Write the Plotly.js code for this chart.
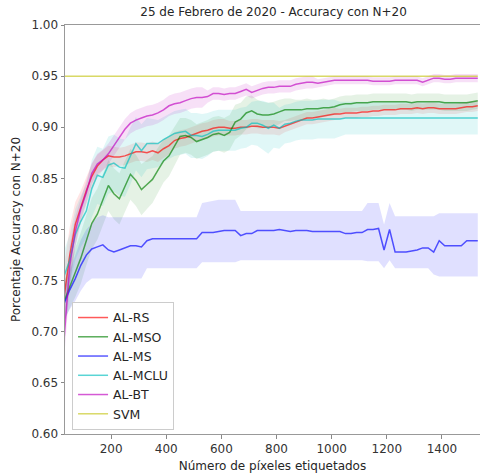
<!DOCTYPE html>
<html>
<head>
<meta charset="utf-8">
<script src="https://cdn.plot.ly/plotly-3.0.1.min.js"></script>
<style>html,body{margin:0;padding:0;background:#fff;}#chart{width:480px;height:474px;}</style>
</head>
<body>
<div id="chart"></div>
<script>
// Número de píxeles etiquetados
const xPix = [30,50,70,90,110,130,150,170,190,210,230,250,270,290,310,330,350,370,390,410,
  430,450,470,490,510,530,550,570,590,610,630,650,670,690,710,730,750,770,790,810,
  830,850,870,890,910,930,950,970,990,1010,1030,1050,1070,1090,1110,1130,1150,1170,1190,1210,
  1230,1250,1270,1290,1310,1330,1350,1370,1390,1410,1430,1450,1470,1490,1510,1530];

const seriesNames = ["AL-RS","AL-MSO","AL-MS","AL-MCLU","AL-BT","SVM"];

const rsMean = [0.735,0.775,0.805,0.822,0.838,0.852,0.862,0.868,0.872,0.871,
  0.871,0.872,0.874,0.876,0.876,0.875,0.877,0.875,0.879,0.882,
  0.887,0.889,0.890,0.892,0.894,0.896,0.897,0.899,0.900,0.900,
  0.899,0.899,0.900,0.900,0.901,0.901,0.900,0.900,0.900,0.899,
  0.901,0.903,0.905,0.907,0.909,0.909,0.910,0.911,0.912,0.913,
  0.913,0.914,0.914,0.914,0.915,0.915,0.916,0.916,0.917,0.917,
  0.917,0.918,0.918,0.918,0.919,0.918,0.919,0.919,0.918,0.918,
  0.918,0.918,0.919,0.920,0.920,0.921];
const rsSd = [0.030,0.028,0.022,0.016,0.013,0.012,0.011,0.010,0.010,0.010,
  0.009,0.009,0.009,0.009,0.009,0.009,0.009,0.009,0.009,0.009,
  0.008,0.008,0.008,0.008,0.008,0.008,0.008,0.008,0.008,0.008,
  0.007,0.007,0.007,0.007,0.007,0.007,0.007,0.007,0.007,0.007,
  0.006,0.006,0.006,0.006,0.006,0.006,0.006,0.006,0.006,0.006,
  0.005,0.005,0.005,0.005,0.005,0.005,0.005,0.005,0.005,0.005,
  0.005,0.005,0.005,0.005,0.005,0.005,0.005,0.005,0.005,0.005,
  0.005,0.005,0.005,0.005,0.005,0.005];

const msoMean = [0.730,0.745,0.758,0.772,0.790,0.806,0.815,0.829,0.843,0.835,
  0.830,0.842,0.854,0.848,0.839,0.844,0.849,0.858,0.867,0.872,
  0.881,0.891,0.892,0.890,0.886,0.888,0.890,0.893,0.894,0.892,
  0.895,0.905,0.908,0.914,0.916,0.913,0.912,0.912,0.913,0.915,
  0.917,0.917,0.917,0.917,0.918,0.918,0.918,0.919,0.919,0.920,
  0.922,0.923,0.923,0.924,0.924,0.924,0.925,0.925,0.925,0.925,
  0.925,0.925,0.925,0.924,0.925,0.925,0.925,0.925,0.925,0.924,
  0.924,0.924,0.924,0.924,0.925,0.926];
const msoSd = [0.020,0.022,0.024,0.025,0.025,0.025,0.025,0.025,0.025,0.025,
  0.025,0.025,0.025,0.025,0.025,0.024,0.023,0.022,0.021,0.020,
  0.019,0.018,0.017,0.017,0.017,0.017,0.017,0.017,0.017,0.017,
  0.017,0.017,0.016,0.016,0.015,0.014,0.013,0.012,0.012,0.012,
  0.011,0.011,0.010,0.010,0.010,0.009,0.009,0.009,0.008,0.008,
  0.008,0.008,0.008,0.008,0.008,0.008,0.008,0.008,0.008,0.008,
  0.008,0.008,0.008,0.008,0.008,0.008,0.008,0.008,0.008,0.008,
  0.008,0.008,0.008,0.008,0.008,0.008];

const msMean = [0.728,0.741,0.752,0.765,0.775,0.781,0.783,0.785,0.780,0.778,
  0.780,0.782,0.784,0.784,0.783,0.789,0.791,0.791,0.791,0.791,
  0.791,0.791,0.791,0.791,0.791,0.797,0.797,0.797,0.798,0.799,
  0.799,0.799,0.794,0.796,0.796,0.799,0.799,0.799,0.799,0.800,
  0.799,0.798,0.799,0.799,0.799,0.798,0.798,0.798,0.798,0.798,
  0.798,0.796,0.796,0.797,0.797,0.800,0.800,0.801,0.780,0.800,
  0.778,0.778,0.778,0.779,0.780,0.782,0.782,0.778,0.789,0.784,
  0.784,0.784,0.784,0.789,0.789,0.789];
const msHigh = [0.745,0.760,0.775,0.790,0.800,0.806,0.812,0.814,0.812,0.812,
  0.812,0.812,0.812,0.812,0.812,0.812,0.812,0.812,0.812,0.812,
  0.812,0.812,0.812,0.812,0.812,0.826,0.827,0.828,0.829,0.829,
  0.829,0.829,0.818,0.818,0.818,0.818,0.818,0.818,0.818,0.818,
  0.818,0.818,0.818,0.818,0.818,0.818,0.818,0.818,0.818,0.818,
  0.818,0.818,0.818,0.818,0.818,0.826,0.826,0.826,0.805,0.826,
  0.813,0.813,0.813,0.813,0.813,0.813,0.813,0.813,0.816,0.816,
  0.816,0.816,0.816,0.816,0.816,0.816];
const msLow = [0.712,0.722,0.730,0.740,0.748,0.752,0.752,0.752,0.752,0.752,
  0.752,0.752,0.752,0.752,0.752,0.762,0.762,0.762,0.762,0.762,
  0.762,0.762,0.762,0.762,0.762,0.768,0.768,0.768,0.768,0.768,
  0.768,0.768,0.770,0.770,0.770,0.770,0.770,0.770,0.770,0.770,
  0.770,0.770,0.770,0.770,0.770,0.770,0.770,0.770,0.770,0.770,
  0.770,0.770,0.770,0.770,0.770,0.769,0.769,0.769,0.762,0.770,
  0.762,0.762,0.762,0.762,0.762,0.762,0.762,0.756,0.754,0.754,
  0.754,0.754,0.754,0.754,0.754,0.754];

const mcluMean = [0.755,0.770,0.795,0.808,0.818,0.840,0.853,0.851,0.863,0.865,
  0.861,0.860,0.872,0.884,0.877,0.884,0.884,0.884,0.888,0.891,
  0.894,0.895,0.896,0.892,0.892,0.891,0.893,0.896,0.897,0.897,
  0.897,0.897,0.899,0.900,0.904,0.904,0.902,0.899,0.902,0.899,
  0.903,0.904,0.906,0.907,0.907,0.907,0.908,0.908,0.908,0.908,
  0.908,0.909,0.909,0.909,0.909,0.909,0.909,0.909,0.909,0.909,
  0.909,0.909,0.909,0.909,0.909,0.909,0.909,0.909,0.909,0.909,
  0.909,0.909,0.909,0.909,0.909,0.909];
const mcluSd = [0.025,0.025,0.025,0.025,0.026,0.028,0.028,0.028,0.028,0.028,
  0.028,0.028,0.028,0.026,0.026,0.025,0.024,0.023,0.022,0.022,
  0.022,0.022,0.022,0.022,0.022,0.022,0.021,0.020,0.020,0.020,
  0.020,0.020,0.020,0.020,0.021,0.022,0.024,0.025,0.022,0.020,
  0.019,0.019,0.019,0.019,0.019,0.019,0.019,0.019,0.019,0.019,
  0.017,0.016,0.016,0.016,0.016,0.016,0.016,0.016,0.016,0.016,
  0.016,0.016,0.016,0.016,0.016,0.016,0.016,0.016,0.016,0.016,
  0.016,0.016,0.016,0.016,0.016,0.016];

const btMean = [0.695,0.765,0.798,0.820,0.836,0.855,0.864,0.868,0.874,0.882,
  0.891,0.898,0.904,0.907,0.909,0.911,0.912,0.914,0.917,0.921,
  0.923,0.924,0.926,0.928,0.929,0.929,0.930,0.933,0.933,0.932,
  0.933,0.933,0.935,0.937,0.934,0.936,0.938,0.939,0.939,0.940,
  0.940,0.940,0.942,0.943,0.944,0.944,0.943,0.944,0.945,0.946,
  0.946,0.946,0.946,0.946,0.946,0.946,0.945,0.945,0.945,0.945,
  0.946,0.946,0.946,0.946,0.946,0.944,0.946,0.948,0.948,0.947,
  0.947,0.948,0.948,0.948,0.948,0.948];
const btSd = [0.020,0.020,0.015,0.010,0.010,0.010,0.010,0.010,0.010,0.010,
  0.010,0.010,0.010,0.010,0.010,0.010,0.010,0.010,0.010,0.010,
  0.010,0.010,0.010,0.010,0.010,0.010,0.006,0.006,0.006,0.006,
  0.006,0.006,0.006,0.006,0.006,0.006,0.006,0.006,0.006,0.006,
  0.006,0.006,0.006,0.006,0.006,0.006,0.004,0.004,0.004,0.004,
  0.004,0.004,0.004,0.004,0.004,0.004,0.004,0.004,0.004,0.004,
  0.004,0.004,0.004,0.004,0.004,0.004,0.004,0.004,0.004,0.004,
  0.004,0.004,0.004,0.004,0.004,0.004];

const svmAcc = 0.95;

const yTicks = [0.60,0.65,0.70,0.75,0.80,0.85,0.90,0.95,1.00];
const xTicks = [200,400,600,800,1000,1200,1400];

const lineColors = ["rgba(255,0,0,0.65)","rgba(0,128,0,0.65)","rgba(0,0,255,0.65)",
  "rgba(0,191,191,0.65)","rgba(191,0,191,0.65)","rgba(191,191,0,0.6)"];
const bandColors = ["rgba(255,0,0,0.10)","rgba(0,128,0,0.10)","rgba(0,0,255,0.12)",
  "rgba(0,191,191,0.12)","rgba(191,0,191,0.12)"];

const series = [
  {mean: rsMean, lo: rsMean.map((v,i)=>v-rsSd[i]), hi: rsMean.map((v,i)=>v+rsSd[i])},
  {mean: msoMean, lo: msoMean.map((v,i)=>v-msoSd[i]), hi: msoMean.map((v,i)=>v+msoSd[i])},
  {mean: msMean, lo: msLow, hi: msHigh},
  {mean: mcluMean, lo: mcluMean.map((v,i)=>v-mcluSd[i]), hi: mcluMean.map((v,i)=>v+mcluSd[i])},
  {mean: btMean, lo: btMean.map((v,i)=>v-btSd[i]), hi: btMean.map((v,i)=>v+btSd[i])}
];

const traces = [];
series.forEach((s,k)=>{
  traces.push({x:xPix, y:s.lo, type:"scatter", mode:"lines", line:{width:0, color:bandColors[k]},
    showlegend:false, hoverinfo:"skip"});
  traces.push({x:xPix, y:s.hi, type:"scatter", mode:"lines", line:{width:0, color:bandColors[k]},
    fill:"tonexty", fillcolor:bandColors[k], showlegend:false, hoverinfo:"skip"});
});
series.forEach((s,k)=>{
  traces.push({x:xPix, y:s.mean, type:"scatter", mode:"lines", name:seriesNames[k],
    line:{color:lineColors[k], width:1.5}});
});
traces.push({x:[xPix[0], xPix[xPix.length-1]], y:[svmAcc, svmAcc], type:"scatter", mode:"lines",
  name:seriesNames[5], line:{color:lineColors[5], width:1.5}});

const font = {family:"DejaVu Sans, sans-serif", size:12, color:"#262626"};
const layout = {
  width:480, height:474,
  margin:{l:65, r:0, t:25, b:40},
  paper_bgcolor:"#fff", plot_bgcolor:"#fff",
  font: font,
  title:{text:"25 de Febrero de 2020 - Accuracy con N+20", font:{family:"DejaVu Sans, sans-serif", size:12, color:"#262626"},
    x:0.57, xanchor:"center", y:0.985, yanchor:"top"},
  xaxis:{range:[32.7,1538], tickvals:xTicks, ticks:"outside", ticklen:3.5, tickcolor:"#888",
    showline:true, linecolor:"#999", linewidth:1, mirror:true, showgrid:false, zeroline:false,
    tickfont:{size:12, color:"#333"},
    title:{text:"Número de píxeles etiquetados", font:{size:12, color:"#262626"}, standoff:6}},
  yaxis:{range:[0.6,1.0], tickvals:yTicks, tickformat:".2f", ticks:"outside", ticklen:3.5, tickcolor:"#888",
    showline:true, linecolor:"#999", linewidth:1, mirror:true, showgrid:false, zeroline:false,
    tickfont:{size:12, color:"#333"},
    title:{text:"Porcentaje Accuracy con N+20", font:{size:12, color:"#262626"}, standoff:8}},
  legend:{x:0.017, y:0.01, xanchor:"left", yanchor:"bottom", bgcolor:"rgba(255,255,255,0.85)",
    bordercolor:"#ccc", borderwidth:1, font:{size:12.5, color:"#262626"}, itemwidth:30,
    traceorder:"normal", tracegroupgap:0},
  showlegend:true
};

Plotly.newPlot("chart", traces, layout, {displayModeBar:false, staticPlot:true});
</script>
</body>
</html>
